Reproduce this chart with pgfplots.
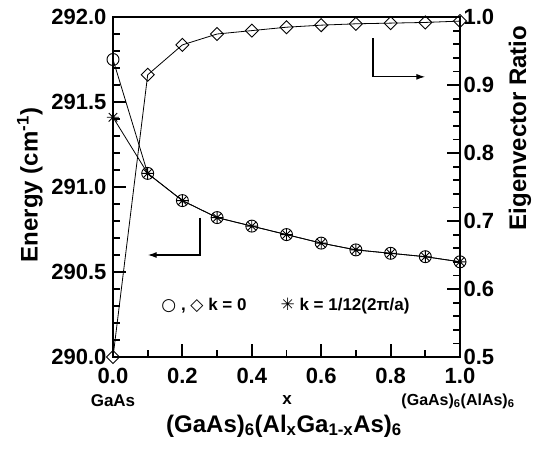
\documentclass[border=0pt]{standalone}
\usepackage{fontspec}
\setmainfont{Liberation Sans}
\newfontfamily\symfont{DejaVu Sans}
\usepackage{pgfplots}
\pgfplotsset{compat=1.18}
\usetikzlibrary{arrows.meta}

% eight-armed asterisk used for the k = 1/12 series
\pgfdeclareplotmark{ast8}{%
  \pgfpathmoveto{\pgfqpoint{-\pgfplotmarksize}{0pt}}%
  \pgfpathlineto{\pgfqpoint{\pgfplotmarksize}{0pt}}%
  \pgfpathmoveto{\pgfqpoint{0pt}{-\pgfplotmarksize}}%
  \pgfpathlineto{\pgfqpoint{0pt}{\pgfplotmarksize}}%
  \pgfpathmoveto{\pgfqpointpolar{45}{\pgfplotmarksize}}%
  \pgfpathlineto{\pgfqpointpolar{225}{\pgfplotmarksize}}%
  \pgfpathmoveto{\pgfqpointpolar{135}{\pgfplotmarksize}}%
  \pgfpathlineto{\pgfqpointpolar{315}{\pgfplotmarksize}}%
  \pgfusepathqstroke}

\newcommand{\tickfont}{\fontsize{22}{22}\selectfont\bfseries}

\pgfplotsset{
  common/.style={
    at={(0pt,0pt)}, anchor=south west,
    scale only axis, width=347pt, height=340pt,
    xmin=0, xmax=1,
    clip=false,
    axis line style={line width=1.8pt},
    tick align=inside,
    major tick length=13pt, minor tick length=7pt,
    every tick/.style={line width=1.8pt, black},
    /pgf/number format/assume math mode=true,
    /pgf/number format/fixed,
    /pgf/number format/fixed zerofill,
    /pgf/number format/precision=1,
  },
}

\begin{document}
\begin{tikzpicture}
\path[use as bounding box] (-113pt,-96pt) rectangle (420pt,357pt);

\begin{axis}[
  common,
  ymin=290, ymax=292,
  xtick={0,0.2,0.4,0.6,0.8,1.0},
  minor x tick num=1,
  ytick={290,290.5,291,291.5,292},
  minor y tick num=4,
  xtick pos=left, ytick pos=left,
  xticklabel style={font=\tickfont, yshift=-8pt},
  yticklabel style={font=\tickfont, xshift=-3pt},
]
% k = 0, energy
\addplot[black, line width=0.8pt, mark=o, mark size=6pt,
  mark options={fill=white, line width=0.9pt}]
  coordinates {
    (0.0,291.75) (0.1,291.08) (0.2,290.92) (0.3,290.82) (0.4,290.77)
    (0.5,290.72) (0.6,290.67) (0.7,290.63) (0.8,290.61) (0.9,290.59)
    (1.0,290.56)
  };
% k = 1/12(2pi/a), energy
\addplot[black, line width=0.8pt, mark=ast8, mark size=6pt,
  mark options={line width=0.9pt}]
  coordinates {
    (0.0,291.41) (0.1,291.08) (0.2,290.92) (0.3,290.82) (0.4,290.77)
    (0.5,290.72) (0.6,290.67) (0.7,290.63) (0.8,290.61) (0.9,290.59)
    (1.0,290.56)
  };
\draw[line width=1.3pt, -{Latex[length=9pt,width=6pt]}]
  (axis cs:0.251,290.82) -- (axis cs:0.251,290.60) -- (axis cs:0.10,290.60);
\end{axis}

\begin{axis}[
  common,
  ymin=0.5, ymax=1.0,
  axis x line=none,
  axis y line*=right,
  ytick={0.5,0.6,0.7,0.8,0.9,1.0},
  minor y tick num=4,
  yticklabel style={font=\tickfont, xshift=0pt},
]
% k = 0, eigenvector ratio
\addplot[black, line width=0.8pt, mark=square, mark size=4.6pt,
  mark options={rotate=45, fill=white, line width=0.9pt}]
  coordinates {
    (0.0,0.500) (0.1,0.915) (0.2,0.959) (0.3,0.975) (0.4,0.980)
    (0.5,0.985) (0.6,0.988) (0.7,0.990) (0.8,0.991) (0.9,0.992)
    (1.0,0.994)
  };
\draw[line width=1.3pt, -{Latex[length=9pt,width=6pt]}]
  (axis cs:0.749,0.969) -- (axis cs:0.749,0.912) -- (axis cs:0.90,0.912);
\end{axis}

% frame top line
\draw[line width=1.8pt] (0pt,340pt) -- (347pt,340pt);

% axis titles and annotations
\node[rotate=90, font=\fontsize{24}{24}\selectfont\bfseries]
  at (-83pt,172pt) {Energy (cm\textsuperscript{-1})};
\node[rotate=90, font=\fontsize{24}{24}\selectfont\bfseries]
  at (407pt,229pt) {Eigenvector Ratio};
\node[font=\fontsize{24}{24}\selectfont\bfseries]
  at (171pt,-69pt) {(GaAs)\textsubscript{6}(Al\textsubscript{x}Ga\textsubscript{1-x}As)\textsubscript{6}};
\node[font=\fontsize{17}{17}\selectfont\bfseries] at (0pt,-44pt) {GaAs};
\node[font=\fontsize{17}{17}\selectfont\bfseries] at (174pt,-43pt) {x};
\node[font=\fontsize{16}{16}\selectfont\bfseries] at (345pt,-44pt)
  {(GaAs)\textsubscript{6}(AlAs)\textsubscript{6}};
\node[font=\fontsize{17}{17}\selectfont\bfseries] at (91pt,51pt)
  {{\symfont ○} , {\symfont ◇} k = 0};
\node[font=\fontsize{17}{17}\selectfont\bfseries] at (232pt,51pt)
  {{\symfont ✳} k = 1/12(2π/a)};
\end{tikzpicture}
\end{document}
